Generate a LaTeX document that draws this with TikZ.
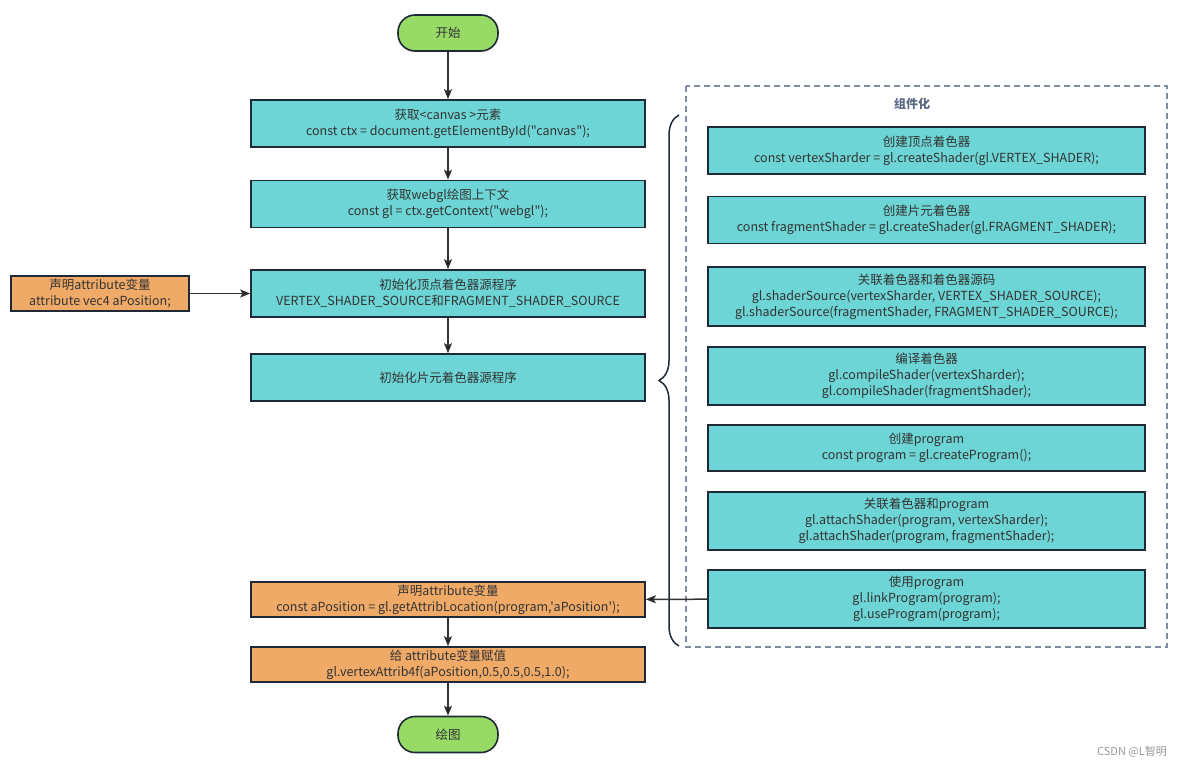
\documentclass[tikz,border=0pt]{standalone}
\usepackage{fontspec}
\newfontfamily\cjkfont{Noto Sans CJK SC}
\usetikzlibrary{arrows.meta,decorations.pathreplacing}
\definecolor{boxteal}{HTML}{6DD5D5}
\definecolor{boxorange}{HTML}{F0AA68}
\definecolor{boxgreen}{HTML}{97DB66}
\definecolor{linedark}{HTML}{1F2A36}
\definecolor{txtdark}{HTML}{333333}
\definecolor{framegray}{HTML}{7F8CA0}
\definecolor{titlegray}{HTML}{5A6780}
\begin{document}
\begin{tikzpicture}[x=1pt,y=-1pt,
    every node/.style={font=\cjkfont\fontsize{12.5}{16}\selectfont,text=txtdark,align=center,inner sep=0pt},
    process/.style={shape=rectangle,draw=linedark,line width=1.6pt,fill=boxteal,minimum width=394pt,minimum height=47pt},
    attrbox/.style={shape=rectangle,draw=linedark,line width=1.6pt,fill=boxorange,minimum width=394pt,minimum height=35pt},
    subproc/.style={shape=rectangle,draw=linedark,line width=1.6pt,fill=boxteal,minimum width=437pt,minimum height=47pt},
    terminal/.style={shape=rectangle,rounded corners=17pt,draw=linedark,line width=1.6pt,fill=boxgreen,minimum width=100pt,minimum height=36pt},
    flow/.style={draw=txtdark,line width=1.5pt,-{Stealth[length=10pt,width=8pt,inset=2pt]}}]
    \useasboundingbox (0,0) rectangle (1180,768);

    % main column
    \node[terminal] (S) at (448,33) {开始};
    \node[process] (A) at (448,123.5) {获取<canvas >元素\\const ctx = document.getElementById("canvas");};
    \node[process] (B) at (448,204) {获取webgl绘图上下文\\const gl = ctx.getContext("webgl");};
    \node[process] (C) at (448,293.5) {初始化顶点着色器源程序\\VERTEX\_SHADER\_SOURCE和FRAGMENT\_SHADER\_SOURCE};
    \node[process] (D) at (448,377.5) {初始化片元着色器源程序};
    \node[attrbox] (E) at (448,599.5) {声明attribute变量\\const aPosition = gl.getAttribLocation(program,'aPosition');};
    \node[attrbox] (F) at (448,664.5) {给 attribute变量赋值\\gl.vertexAttrib4f(aPosition,0.5,0.5,0.5,1.0);};
    \node[terminal] (T) at (448,734.5) {绘图};
    \node[attrbox,minimum width=178pt] (V) at (100,293.5) {声明attribute变量\\attribute vec4 aPosition;};

    % component frame
    \draw[framegray,line width=1.2pt,dash pattern=on 6pt off 4pt] (686,86) rectangle (1167,647);
    \node[font=\cjkfont\fontsize{12}{14}\selectfont\bfseries,text=titlegray] (K) at (912,104) {组件化};
    \node[subproc] (R1) at (926.5,150.5) {创建顶点着色器\\const vertexSharder = gl.createShader(gl.VERTEX\_SHADER);};
    \node[subproc] (R2) at (926.5,220) {创建片元着色器\\const fragmentShader = gl.createShader(gl.FRAGMENT\_SHADER);};
    \node[subproc,minimum height=59pt] (R3) at (926.5,296.5) {关联着色器和着色器源码\\gl.shaderSource(vertexSharder, VERTEX\_SHADER\_SOURCE);\\gl.shaderSource(fragmentShader, FRAGMENT\_SHADER\_SOURCE);};
    \node[subproc,minimum height=58pt] (R4) at (926.5,376) {编译着色器\\gl.compileShader(vertexSharder);\\gl.compileShader(fragmentShader);};
    \node[subproc,minimum height=46pt] (R5) at (926.5,448) {创建program\\const program = gl.createProgram();};
    \node[subproc,minimum height=58pt] (R6) at (926.5,521) {关联着色器和program\\gl.attachShader(program, vertexSharder);\\gl.attachShader(program, fragmentShader);};
    \node[subproc,minimum height=58pt] (R7) at (926.5,599) {使用program\\gl.linkProgram(program);\\gl.useProgram(program);};

    \draw[linedark,line width=1.5pt,decorate,decoration={brace,amplitude=20pt,aspect=0.5}] (679,646) -- (679,115);

    \path[flow] (S) edge (A);
    \path[flow] (A) edge (B);
    \path[flow] (B) edge (C);
    \path[flow] (C) edge (D);
    \path[flow] (V) edge (C);
    \path[flow] (R7) edge (E);
    \path[flow] (E) edge (F);
    \path[flow] (F) edge (T);

    \node[text=gray!80,font=\cjkfont\fontsize{11}{13}\selectfont] (W) at (1132,752) {CSDN @L智明};
\end{tikzpicture}
\end{document}
